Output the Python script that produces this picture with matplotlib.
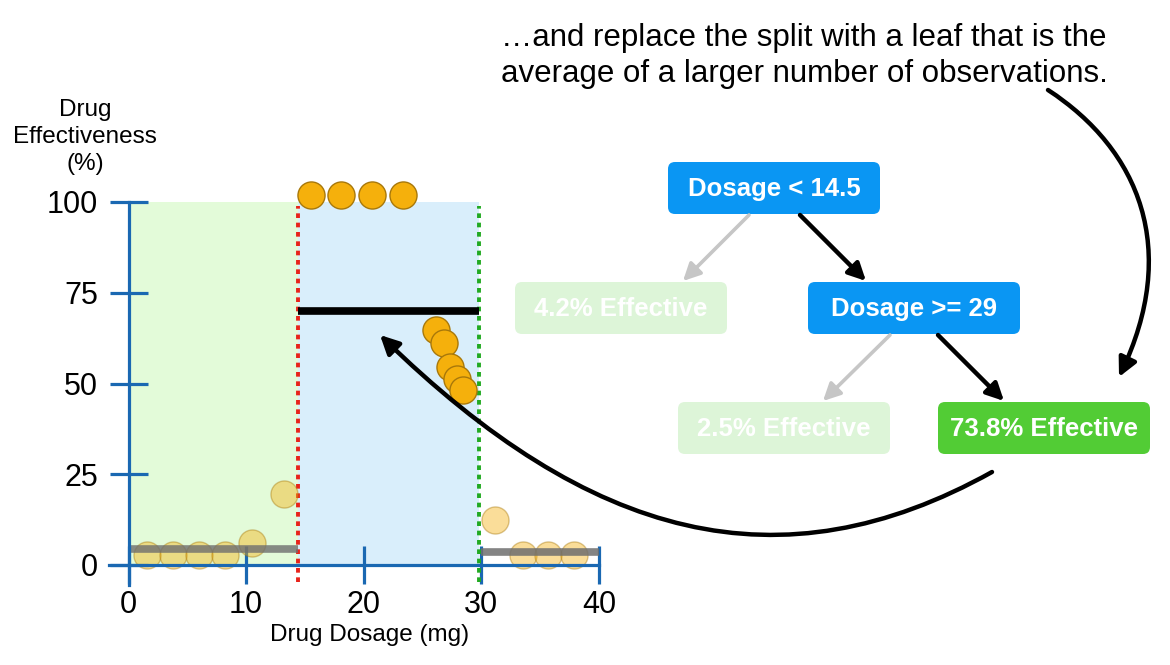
import matplotlib
matplotlib.use("Agg")
import matplotlib.pyplot as plt
from matplotlib.patches import FancyBboxPatch, FancyArrowPatch
from matplotlib.path import Path

plt.rcParams['font.family'] = ['Liberation Sans', 'DejaVu Sans']

# ---------------- data ----------------
dose_left = [1.6, 3.75, 6.0, 8.2, 10.5, 13.2]
eff_left = [2.8, 2.8, 2.8, 2.8, 6.1, 19.5]
dose_mid = [15.5, 18.1, 20.7, 23.3, 26.1, 26.8, 27.3, 27.9, 28.4]
eff_mid = [102, 102, 102, 102, 64.7, 61.2, 54.5, 51.2, 48.2]
dose_right = [31.2, 33.5, 35.7, 37.9]
eff_right = [12.4, 2.8, 2.8, 2.8]

split1 = 14.4
split2 = 29.8
leaf_left_mean = 4.4
leaf_mid_mean = 70.0
leaf_right_mean = 3.6

x_ticks = [0, 10, 20, 30, 40]
y_ticks = [0, 25, 50, 75, 100]

node_labels = ["Dosage < 14.5", "4.2% Effective", "Dosage >= 29",
               "2.5% Effective", "73.8% Effective"]
title_text = "\u2026and replace the split with a leaf that is the\naverage of a larger number of observations."

# ---------------- styles ----------------
W, H = 1170, 665
BLUE_AX = '#1a68b2'
ORANGE = '#f5b00c'
ORANGE_EDGE = '#a8780a'
GREEN_SHADE = '#e3fbd9'
BLUE_SHADE = '#d9eefb'

fig = plt.figure(figsize=(W / 100, H / 100), dpi=100)

# main axes: x 0->128.5px, 40->599px ; y 0->565px, 100->202px
px_x0, px_per_x = 128.5, (599 - 128.5) / 40.0
px_y0, px_per_y = 565.0, (565 - 202) / 100.0
xlim = (-3.0, 42.0)
ylim = (-8.0, 110.0)
left_px = px_x0 + xlim[0] * px_per_x
right_px = px_x0 + xlim[1] * px_per_x
bottom_px = px_y0 - ylim[0] * px_per_y
top_px = px_y0 - ylim[1] * px_per_y
ax = fig.add_axes([left_px / W, 1 - bottom_px / H,
                   (right_px - left_px) / W, (bottom_px - top_px) / H])
ax.set_xlim(*xlim)
ax.set_ylim(*ylim)
ax.patch.set_visible(False)

# shaded regions
yfrac0 = (0 - ylim[0]) / (ylim[1] - ylim[0])
yfrac1 = (100 - ylim[0]) / (ylim[1] - ylim[0])
ax.axvspan(0, split1, ymin=yfrac0, ymax=yfrac1, color=GREEN_SHADE, lw=0, zorder=0)
ax.axvspan(split1, split2, ymin=yfrac0, ymax=yfrac1, color=BLUE_SHADE, lw=0, zorder=0)

# split lines
ax.plot([split1, split1], [-4.8, 99], color='#e8231a', lw=2.8,
        linestyle=(0, (1.2, 1.2)), zorder=2, clip_on=False)
ax.plot([split2, split2], [-4.8, 99], color='#22aa22', lw=2.8,
        linestyle=(0, (1.2, 1.2)), zorder=2, clip_on=False)

# leaf means
ax.plot([split1, split2], [leaf_mid_mean] * 2, color='black', lw=5.5,
        solid_capstyle='butt', zorder=3)

# points
ax.scatter(dose_mid, eff_mid, s=380, color=ORANGE, edgecolor=ORANGE_EDGE,
           linewidth=1.0, zorder=4, clip_on=False)
ax.scatter(dose_left, eff_left, s=380, color=ORANGE, edgecolor=ORANGE_EDGE,
           linewidth=1.0, alpha=0.42, zorder=4, clip_on=False)
ax.scatter(dose_right, eff_right, s=380, color=ORANGE, edgecolor=ORANGE_EDGE,
           linewidth=1.0, alpha=0.42, zorder=4, clip_on=False)

ax.plot([0, split1], [leaf_left_mean] * 2, color='#6e6e6e', lw=5.5, alpha=0.8,
        solid_capstyle='butt', zorder=5)
ax.plot([30, 40], [leaf_right_mean] * 2, color='#6e6e6e', lw=5.5, alpha=0.85,
        solid_capstyle='butt', zorder=5)

# axes styling
for s in ['top', 'right']:
    ax.spines[s].set_visible(False)
ax.spines['left'].set_position(('data', 0))
ax.spines['bottom'].set_position(('data', 0))
ax.spines['left'].set_bounds(-5.5, 100)
ax.spines['bottom'].set_bounds(-1.7, 40)
for s in ['left', 'bottom']:
    ax.spines[s].set_color(BLUE_AX)
    ax.spines[s].set_linewidth(2.3)
    ax.spines[s].set_zorder(6)
ax.set_xticks(x_ticks)
ax.set_yticks(y_ticks)
ax.tick_params(axis='both', direction='inout', length=28, width=2.3,
               color=BLUE_AX, labelsize=22, labelcolor='black')
ax.tick_params(axis='y', pad=8)
ax.tick_params(axis='x', pad=4)

ax.set_xlabel("Drug Dosage (mg)", fontsize=17.5)
ax.xaxis.set_label_coords((370 - left_px) / (right_px - left_px),
                          (bottom_px - 624) / (bottom_px - top_px))
ax.xaxis.label.set_va('top')
ax.set_ylabel("Drug\nEffectiveness\n(%)", fontsize=17.5, rotation=0,
              ha='center', va='center', linespacing=1.32)
ax.yaxis.set_label_coords((85 - left_px) / (right_px - left_px),
                          (bottom_px - 137) / (bottom_px - top_px))

# ---------------- overlay for diagram ----------------
ov = fig.add_axes([0, 0, 1, 1])
ov.set_xlim(0, W)
ov.set_ylim(H, 0)
ov.axis('off')
ov.set_zorder(10)

ov.text(501, 56, title_text, fontsize=22.5, ha='left', va='center',
        linespacing=1.22, color='black')

box_w, box_h = 212, 52
node_centers = [(774, 188), (621, 308), (914, 308), (784, 428), (1044, 428)]
node_colors = ['#0a96f3', '#ddf5d8', '#0a96f3', '#ddf5d8', '#52cc35']
for lab, (cx, cy), col in zip(node_labels, node_centers, node_colors):
    ov.add_patch(FancyBboxPatch((cx - box_w / 2, cy - box_h / 2), box_w, box_h,
                                boxstyle="round,pad=0,rounding_size=7",
                                facecolor=col, edgecolor='none'))
    ov.text(cx, cy + 1, lab, color='white', fontsize=18.5, fontweight='bold',
            ha='center', va='center')

tree_arrows = [((800, 215), (866, 281), 'black', 3.2),
               ((749, 215), (683, 281), '#c6c6c6', 2.6),
               ((938, 335), (1004, 401), 'black', 3.2),
               ((890, 335), (823, 401), '#c6c6c6', 2.6)]
for (p0, p1, col, lw) in tree_arrows:
    ov.add_patch(FancyArrowPatch(p0, p1, arrowstyle='-|>', mutation_scale=26,
                                 color=col, lw=lw, shrinkA=0, shrinkB=0))

# curved arrows
path1 = Path([(1048, 90), (1140, 150), (1180, 250), (1119, 377)],
             [Path.MOVETO, Path.CURVE4, Path.CURVE4, Path.CURVE4])
ov.add_patch(FancyArrowPatch(path=path1, arrowstyle='-|>', mutation_scale=28,
                             color='black', lw=3.2))
path2 = Path([(992, 472), (780, 590), (590, 540), (380, 335)],
             [Path.MOVETO, Path.CURVE4, Path.CURVE4, Path.CURVE4])
ov.add_patch(FancyArrowPatch(path=path2, arrowstyle='-|>', mutation_scale=28,
                             color='black', lw=3.2))

fig.savefig("out.png", dpi=100)
